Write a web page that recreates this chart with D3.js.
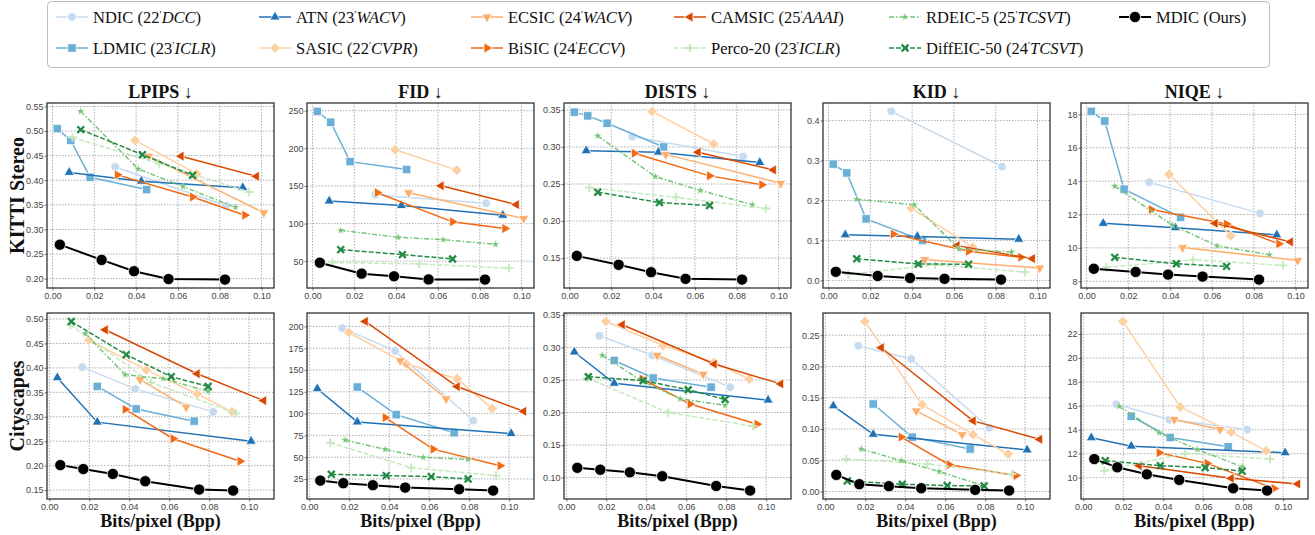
<!DOCTYPE html>
<html>
<head>
<meta charset="utf-8">
<script src="https://cdn.jsdelivr.net/npm/d3@7"></script>
<style>
body { margin: 0; background: #fff; }
.tick-label { font-family: "Liberation Sans", Arial, sans-serif; font-size: 9px; fill: #444; }
.serif { font-family: "Liberation Serif", "Times New Roman", serif; fill: #111; }
</style>
</head>
<body>
<script>
// Rate-perception curves, KITTI Stereo (top) / Cityscapes (bottom)

// legend order: NDIC, LDMIC, ATN, SASIC, ECSIC, BiSIC, CAMSIC, Perco-20, RDEIC-5, DiffEIC-50, MDIC
var methods = ["NDIC", "LDMIC", "ATN", "SASIC", "ECSIC", "BiSIC", "CAMSIC", "Perco-20", "RDEIC-5", "DiffEIC-50", "MDIC"];
var years   = ["22", "23", "23", "22", "24", "24", "25", "23", "25", "24", ""];
var venues  = ["DCC", "ICLR", "WACV", "CVPR", "WACV", "ECCV", "AAAI", "ICLR", "TCSVT", "TCSVT", ""];
var metrics = ["LPIPS", "FID", "DISTS", "KID", "NIQE"];
var datasets = ["KITTI Stereo", "Cityscapes"];

// bits per pixel
var kittiBpp = [
  [0.030, 0.083],
  [0.0023, 0.0087, 0.018, 0.045],
  [0.008, 0.0425, 0.091],
  [0.0395, 0.069],
  [0.046, 0.101],
  [0.031, 0.067, 0.092],
  [0.0615, 0.0975],
  [0.0095, 0.051, 0.094],
  [0.0135, 0.041, 0.0625, 0.0875],
  [0.0135, 0.043, 0.067],
  [0.0035, 0.0235, 0.039, 0.0555, 0.0825]
];
var cityBpp = [
  [0.0165, 0.043, 0.082],
  [0.024, 0.0435, 0.0725],
  [0.004, 0.024, 0.101],
  [0.0198, 0.0485, 0.074, 0.0915],
  [0.0455, 0.0685],
  [0.038, 0.062, 0.0955],
  [0.028, 0.074, 0.1073],
  [0.0105, 0.051, 0.0935],
  [0.018, 0.038, 0.057, 0.0795],
  [0.011, 0.0385, 0.061, 0.0795],
  [0.0055, 0.017, 0.0318, 0.048, 0.075, 0.092]
];

// KITTI Stereo metrics
var kittiLpips = [
  [0.427, 0.348],
  [0.505, 0.481, 0.406, 0.381],
  [0.416, 0.398, 0.385],
  [0.481, 0.413],
  [0.449, 0.334],
  [0.411, 0.366, 0.329],
  [0.449, 0.408],
  [0.487, 0.434, 0.376],
  [0.540, 0.423, 0.387, 0.345],
  [0.503, 0.452, 0.410],
  [0.269, 0.238, 0.215, 0.199, 0.198]
];
var kittiFid = [
  [138, 127],
  [249, 234.6, 182.3, 171.8],
  [130, 124, 111],
  [198, 171],
  [141, 106.7],
  [141, 102.3, 93.5],
  [150.2, 125.2],
  [48.2, 46.5, 40.8],
  [91, 81.8, 78.6, 72.4],
  [65.4, 58.8, 53],
  [48, 33.5, 30, 25.8, 25.6]
];
var kittiDists = [
  [0.314, 0.287],
  [0.347, 0.342, 0.332, 0.300],
  [0.295, 0.293, 0.279],
  [0.348, 0.304],
  [0.290, 0.251],
  [0.2915, 0.261, 0.249],
  [0.293, 0.269],
  [0.245, 0.232, 0.217],
  [0.315, 0.260, 0.2415, 0.222],
  [0.239, 0.225, 0.221],
  [0.153, 0.141, 0.131, 0.122, 0.121]
];
var kittiKid = [
  [0.423, 0.285],
  [0.291, 0.269, 0.154, 0.100],
  [0.114, 0.110, 0.103],
  [0.181, 0.083],
  [0.052, 0.031],
  [0.116, 0.073, 0.058],
  [0.087, 0.0545],
  [0.015, 0.039, 0.021],
  [0.203, 0.189, 0.0785, 0.071],
  [0.054, 0.041, 0.0405],
  [0.0215, 0.011, 0.006, 0.004, 0.002]
];
var kittiNiqe = [
  [13.93, 12.07],
  [18.18, 17.6, 13.52, 11.83],
  [11.47, 11.21, 10.78],
  [14.41, 10.72],
  [10.02, 9.25],
  [12.3, 11.43, 10.24],
  [11.47, 10.36],
  [8.83, 9.29, 8.95],
  [13.7, 11.37, 10.12, 9.59],
  [9.43, 9.05, 8.89],
  [8.75, 8.56, 8.4, 8.28, 8.1]
];

// Cityscapes metrics
var cityLpips = [
  [0.4015, 0.357, 0.310],
  [0.362, 0.316, 0.291],
  [0.380, 0.289, 0.250],
  [0.457, 0.396, 0.347, 0.310],
  [0.376, 0.320],
  [0.315, 0.255, 0.209],
  [0.478, 0.388, 0.333],
  [0.488, 0.370, 0.307],
  [0.470, 0.386, 0.378, 0.352],
  [0.495, 0.427, 0.382, 0.362],
  [0.201, 0.193, 0.183, 0.168, 0.151, 0.149]
];
var cityFid = [
  [198, 172, 92],
  [130.4, 98.8, 78],
  [128.5, 90.4, 77.1],
  [193, 157, 140, 105.7],
  [160.8, 117],
  [95.4, 59.2, 40.2],
  [205.7, 131, 102.6],
  [66.5, 38, 28.8],
  [69.5, 58.9, 49.7, 47.4],
  [30.3, 28.8, 27.7, 25],
  [23.1, 20.1, 17.8, 15.1, 13.2, 11.7]
];
var cityDists = [
  [0.318, 0.288, 0.239],
  [0.280, 0.253, 0.239],
  [0.293, 0.245, 0.219],
  [0.340, 0.303, 0.277, 0.2515],
  [0.288, 0.259],
  [0.2515, 0.213, 0.182],
  [0.335, 0.2745, 0.244],
  [0.253, 0.200, 0.179],
  [0.288, 0.248, 0.221, 0.211],
  [0.255, 0.249, 0.235, 0.220],
  [0.115, 0.112, 0.108, 0.102, 0.087, 0.080]
];
var cityKid = [
  [0.233, 0.212, 0.102],
  [0.140, 0.087, 0.068],
  [0.137, 0.0915, 0.0665],
  [0.272, 0.139, 0.091, 0.060],
  [0.129, 0.091],
  [0.087, 0.043, 0.0255],
  [0.230, 0.113, 0.0835],
  [0.052, 0.044, 0.028],
  [0.068, 0.0495, 0.032, 0.009],
  [0.017, 0.0117, 0.0096, 0.009],
  [0.0266, 0.0117, 0.0085, 0.0053, 0.0027, 0.0016]
];
var cityNiqe = [
  [16.13, 14.85, 14.02],
  [15.13, 13.35, 12.58],
  [13.33, 12.63, 12.08],
  [23.05, 15.9, 13.8, 12.24],
  [14.85, 14.02],
  [12.08, 11.19, 9.09],
  [11.0, 9.94, 9.47],
  [10.58, 12.02, 11.55],
  [15.96, 13.75, 12.35, 10.91],
  [11.41, 11.0, 10.83, 10.55],
  [11.55, 10.86, 10.28, 9.81, 9.11, 8.92]
];

// tick labels
var xTicks = [0, 0.02, 0.04, 0.06, 0.08, 0.10];
var kittiTicks = [
  [0.20, 0.25, 0.30, 0.35, 0.40, 0.45, 0.50, 0.55],
  [50, 100, 150, 200, 250],
  [0.15, 0.20, 0.25, 0.30, 0.35],
  [0.0, 0.1, 0.2, 0.3, 0.4],
  [8, 10, 12, 14, 16, 18]
];
var cityTicks = [
  [0.15, 0.20, 0.25, 0.30, 0.35, 0.40, 0.45, 0.50],
  [25, 50, 75, 100, 125, 150, 175, 200],
  [0.10, 0.15, 0.20, 0.25, 0.30, 0.35],
  [0.00, 0.05, 0.10, 0.15, 0.20, 0.25],
  [10, 12, 14, 16, 18, 20, 22]
];
var kittiFormats = [".2f", "d", ".2f", ".1f", "d"];
var cityFormats = [".2f", "d", ".2f", ".2f", "d"];

// styles
var colors = ["#c6dbef", "#6baed6", "#2171b5", "#fdd0a2", "#fdae6b", "#f16913", "#d94801", "#c7e9c0", "#74c476", "#238b45", "#000000"];
var shapes = ["circle", "square", "up", "diamond", "down", "right", "left", "plus", "star", "cross", "circle"];
var dashes = [null, null, null, null, null, null, null, "5,2", "5,2,1.5,2", "5,2", null];

// layout
var W = 1315, H = 535;
var colLeft = [47, 307, 564, 823, 1081];
var axW = 227;
var rowTop = [103, 313];
var axH = [185, 186];

var svg = d3.select("body").append("svg")
    .attr("width", W)
    .attr("height", H);

function padded(ext) {
    var m = (ext[1] - ext[0]) * 0.05;
    return [ext[0] - m, ext[1] + m];
}

function markerPath(kind, i) {
    var big = (i === methods.length - 1);
    if (kind === "circle") return d3.symbol().type(d3.symbolCircle).size(big ? 100 : 60)();
    if (kind === "square") return d3.symbol().type(d3.symbolSquare).size(72)();
    if (kind === "diamond") return d3.symbol().type(d3.symbolSquare).size(58)();
    if (kind === "star") return d3.symbol().type(d3.symbolStar).size(20)();
    if (kind === "plus") return "M-4.3,0H4.3M0,-4.3V4.3";
    if (kind === "cross") return "M-3.4,-3.4L3.4,3.4M-3.4,3.4L3.4,-3.4";
    return d3.symbol().type(d3.symbolTriangle).size(46)();
}

function markerRotate(kind) {
    if (kind === "diamond") return 45;
    if (kind === "down") return 180;
    if (kind === "right") return 90;
    if (kind === "left") return -90;
    return 0;
}

function drawMarker(g, kind, i, x, y) {
    var stroked = (kind === "plus" || kind === "cross");
    var m = g.append("path")
        .attr("d", markerPath(kind, i))
        .attr("transform", "translate(" + x + "," + y + ") rotate(" + markerRotate(kind) + ")");
    if (stroked) {
        m.attr("fill", "none").attr("stroke", colors[i]).attr("stroke-width", kind === "cross" ? 2.3 : 1.9);
    } else {
        m.attr("fill", colors[i]).attr("stroke", "#fff").attr("stroke-width", kind === "star" ? 0.3 : 0.8);
    }
}

function drawPanel(row, col, bpp, vals, ticks, fmt) {
    var left = colLeft[col], top = rowTop[row], w = axW, h = axH[row];
    var g = svg.append("g").attr("transform", "translate(" + left + "," + top + ")");

    var xScale = d3.scaleLinear().domain(padded(d3.extent(d3.merge(bpp)))).range([0, w]);
    var yScale = d3.scaleLinear().domain(padded(d3.extent(d3.merge(vals)))).range([h, 0]);

    // grid
    g.append("g").selectAll("line").data(xTicks).enter().append("line")
        .attr("x1", function(d) { return xScale(d); })
        .attr("x2", function(d) { return xScale(d); })
        .attr("y1", 0).attr("y2", h)
        .attr("stroke", "#999").attr("stroke-width", 0.8).attr("stroke-dasharray", "1.5,1.5");
    g.append("g").selectAll("line").data(ticks).enter().append("line")
        .attr("y1", function(d) { return yScale(d); })
        .attr("y2", function(d) { return yScale(d); })
        .attr("x1", 0).attr("x2", w)
        .attr("stroke", "#999").attr("stroke-width", 0.8).attr("stroke-dasharray", "1.5,1.5");

    // axes
    var xAxis = d3.axisBottom(xScale).tickValues(xTicks).tickFormat(d3.format(".2f")).tickSize(2.5).tickPadding(2);
    var yAxis = d3.axisLeft(yScale).tickValues(ticks).tickFormat(d3.format(fmt)).tickSize(2.5).tickPadding(1);
    var gx = g.append("g").attr("transform", "translate(0," + h + ")").call(xAxis);
    var gy = g.append("g").call(yAxis);
    [gx, gy].forEach(function(a) {
        a.select(".domain").remove();
        a.selectAll(".tick line").attr("stroke", "#555").attr("stroke-width", 0.8);
        a.selectAll(".tick text").attr("class", "tick-label").attr("font-family", null).attr("font-size", null);
    });

    // series
    var line = d3.line()
        .x(function(d) { return xScale(d[0]); })
        .y(function(d) { return yScale(d[1]); });
    methods.forEach(function(name, i) {
        var pts = d3.zip(bpp[i], vals[i]);
        g.append("path")
            .attr("d", line(pts))
            .attr("fill", "none")
            .attr("stroke", colors[i])
            .attr("stroke-width", i === methods.length - 1 ? 2 : 1.5)
            .attr("stroke-dasharray", dashes[i]);
        pts.forEach(function(p) {
            drawMarker(g, shapes[i], i, xScale(p[0]), yScale(p[1]));
        });
    });

    // frame
    g.append("rect")
        .attr("width", w).attr("height", h)
        .attr("fill", "none").attr("stroke", "#333").attr("stroke-width", 1.3);
}

var kittiVals = [kittiLpips, kittiFid, kittiDists, kittiKid, kittiNiqe];
var cityVals = [cityLpips, cityFid, cityDists, cityKid, cityNiqe];

metrics.forEach(function(m, c) {
    drawPanel(0, c, kittiBpp, kittiVals[c], kittiTicks[c], kittiFormats[c]);
    drawPanel(1, c, cityBpp, cityVals[c], cityTicks[c], cityFormats[c]);

    svg.append("text")
        .attr("class", "serif")
        .attr("x", colLeft[c] + axW / 2)
        .attr("y", 98)
        .attr("text-anchor", "middle")
        .attr("font-size", "18px")
        .attr("font-weight", "bold")
        .text(m + " \u2193");

    svg.append("text")
        .attr("class", "serif")
        .attr("x", colLeft[c] + axW / 2)
        .attr("y", 527)
        .attr("text-anchor", "middle")
        .attr("font-size", "18px")
        .attr("font-weight", "bold")
        .text("Bits/pixel (Bpp)");
});

datasets.forEach(function(name, r) {
    svg.append("text")
        .attr("class", "serif")
        .attr("transform", "translate(24," + (rowTop[r] + axH[r] / 2) + ") rotate(-90)")
        .attr("text-anchor", "middle")
        .attr("font-size", "20px")
        .attr("font-weight", "bold")
        .text(name);
});

// legend
var legend = svg.append("g");
legend.append("rect")
    .attr("x", 47.5).attr("y", 1.5)
    .attr("width", 1222).attr("height", 66)
    .attr("rx", 4)
    .attr("fill", "#fff").attr("stroke", "#bbb").attr("stroke-width", 1);

var legendCols = [72, 275, 487, 690, 905, 1135];
var legendRows = [17, 48];

methods.forEach(function(name, i) {
    var mx = legendCols[Math.floor(i / 2)], my = legendRows[i % 2];
    var item = legend.append("g");
    item.append("line")
        .attr("x1", mx - 16).attr("x2", mx + 16)
        .attr("y1", my).attr("y2", my)
        .attr("stroke", colors[i])
        .attr("stroke-width", i === methods.length - 1 ? 2 : 1.5)
        .attr("stroke-dasharray", dashes[i]);
    drawMarker(item, shapes[i], i, mx, my);

    var t = item.append("text")
        .attr("class", "serif")
        .attr("x", mx + 21)
        .attr("y", my + 5.5)
        .attr("font-size", "16.5px");
    if (venues[i] === "") {
        t.text(name + " (Ours)");
    } else {
        t.append("tspan").text(name + " (" + years[i]);
        t.append("tspan").attr("font-size", "10px").attr("dy", -5).text("\u2032");
        t.append("tspan").attr("font-style", "italic").attr("dy", 5).text(venues[i]);
        t.append("tspan").text(")");
    }
});
</script>
</body>
</html>
